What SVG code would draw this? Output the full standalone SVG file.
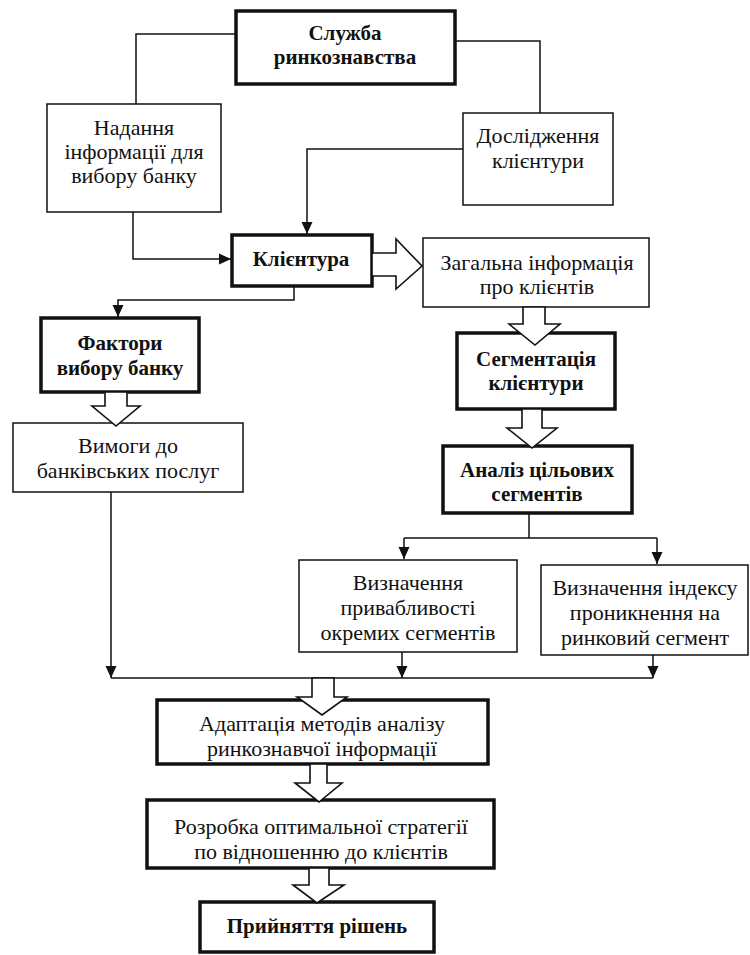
<svg xmlns="http://www.w3.org/2000/svg" width="750" height="955" viewBox="0 0 750 955">
<defs>
<style>
.thin{fill:#fff;stroke:#111;stroke-width:1.5}
.thick{fill:#fff;stroke:#111;stroke-width:3.5}
.t{font-family:"Liberation Serif","Times New Roman",serif;font-size:22px;fill:#111;text-anchor:middle}
.b{font-weight:bold;font-size:21px}
.ln{fill:none;stroke:#111;stroke-width:1.5}
.ha{fill:#fff;stroke:#111;stroke-width:1.6;stroke-linejoin:miter}
</style>
<marker id="ar" viewBox="0 0 12 12" refX="12" refY="6" markerWidth="12" markerHeight="12" markerUnits="userSpaceOnUse" orient="auto">
<path d="M0,0.5 L12,6 L0,11.5 z" fill="#111"/>
</marker>
</defs>
<rect width="750" height="955" fill="#fff"/>
<g id="sluzhba"><rect class="thick" x="236" y="11" width="219" height="73"/><text class="t b" x="345" y="40">Служба</text><text class="t b" x="345" y="64">ринкознавства</text></g>
<g id="nadannya"><rect class="thin" x="47" y="104" width="174" height="108"/><text class="t" x="134" y="135">Надання</text><text class="t" x="134" y="159">інформації для</text><text class="t" x="134" y="183">вибору банку</text></g>
<g id="doslidzhennya"><rect class="thin" x="463" y="113" width="150" height="92"/><text class="t" x="538" y="143">Дослідження</text><text class="t" x="538" y="168">клієнтури</text></g>
<g id="klientura"><rect class="thick" x="232" y="235" width="140" height="51"/><text class="t b" x="301" y="266">Клієнтура</text></g>
<g id="zahalna"><rect class="thin" x="423" y="238" width="226" height="69"/><text class="t" x="537" y="270">Загальна інформація</text><text class="t" x="537" y="294">про клієнтів</text></g>
<g id="faktory"><rect class="thick" x="41" y="318" width="158" height="74"/><text class="t b" x="120" y="350">Фактори</text><text class="t b" x="120" y="375">вибору банку</text></g>
<g id="sehmentatsiya"><rect class="thick" x="457" y="333" width="158" height="76"/><text class="t b" x="536" y="366">Сегментація</text><text class="t b" x="536" y="390">клієнтури</text></g>
<g id="vymohy"><rect class="thin" x="13" y="423" width="230" height="69"/><text class="t" x="128" y="453">Вимоги до</text><text class="t" x="128" y="478">банківських послуг</text></g>
<g id="analiz"><rect class="thick" x="443" y="446" width="189" height="67"/><text class="t b" x="537" y="477">Аналіз цільових</text><text class="t b" x="537" y="501">сегментів</text></g>
<g id="pryvablyvist"><rect class="thin" x="299" y="560" width="218" height="92"/><text class="t" x="408" y="590">Визначення</text><text class="t" x="408" y="615">привабливості</text><text class="t" x="408" y="640">окремих сегментів</text></g>
<g id="indeks"><rect class="thin" x="541" y="565" width="207" height="90"/><text class="t" x="645" y="595">Визначення індексу</text><text class="t" x="645" y="620">проникнення на</text><text class="t" x="645" y="645">ринковий сегмент</text></g>
<g id="adaptatsiya"><rect class="thick" x="157" y="700" width="331" height="64"/><text class="t" x="322" y="731">Адаптація методів аналізу</text><text class="t" x="322" y="756">ринкознавчої інформації</text></g>
<g id="rozrobka"><rect class="thick" x="147" y="800" width="347" height="68"/><text class="t" x="321" y="834">Розробка оптимальної стратегії</text><text class="t" x="321" y="859">по відношенню до клієнтів</text></g>
<g id="pryiniattia"><rect class="thick" x="200" y="902" width="234" height="50"/><text class="t b" x="317" y="933">Прийняття рішень</text></g>
<g id="connectors">
<path class="ln" d="M236,34 H136 V104"/>
<path class="ln" d="M455,41 H540 V113"/>
<path class="ln" d="M133,212 V259 H231" marker-end="url(#ar)"/>
<path class="ln" d="M463,149 H307 V234" marker-end="url(#ar)"/>
<path class="ln" d="M294,286 V300 H118 V317" marker-end="url(#ar)"/>
<path class="ln" d="M529,513 V538"/>
<path class="ln" d="M404,538 H657"/>
<path class="ln" d="M404,538 V559" marker-end="url(#ar)"/>
<path class="ln" d="M657,538 V564" marker-end="url(#ar)"/>
<path class="ln" d="M111,492 V678" marker-end="url(#ar)"/>
<path class="ln" d="M111,678 H653"/>
<path class="ln" d="M402,652 V678" marker-end="url(#ar)"/>
<path class="ln" d="M653,655 V678" marker-end="url(#ar)"/>
<polygon class="ha" points="372,253 396,253 396,239 422,266 396,289 396,276 372,276"/>
<polygon class="ha" points="523,307 545,307 545,324 560,324 535,345 509,324 523,324"/>
<polygon class="ha" points="522,409 542,409 542,428 557,428 532,448 507,428 522,428"/>
<polygon class="ha" points="105,392 127,392 127,406 140,406 116,426 92,406 105,406"/>
<polygon class="ha" points="312,678 334,678 334,697 347,697 322,715 297,697 312,697"/>
<polygon class="ha" points="310,764 327,764 327,783 342,783 319,802 295,783 310,783"/>
<polygon class="ha" points="309,868 329,868 329,885 344,885 317,903 293,885 309,885"/>
</g>
</svg>
